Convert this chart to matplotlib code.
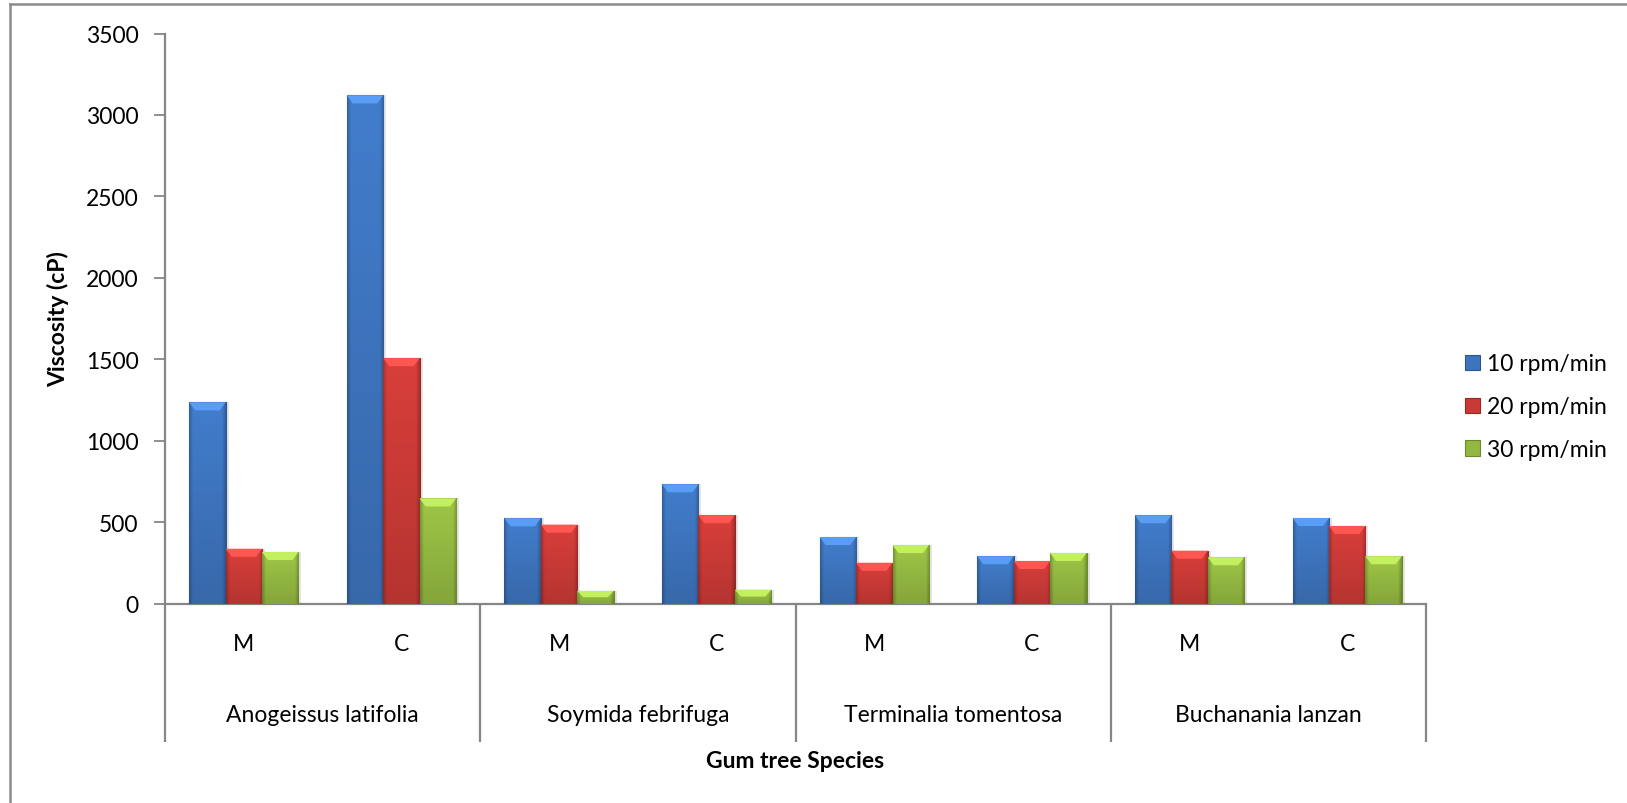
import numpy as np
import matplotlib
matplotlib.use('Agg')
import matplotlib.pyplot as plt
import matplotlib.transforms as mtransforms
from matplotlib.patches import Polygon, Patch
from matplotlib.lines import Line2D
from matplotlib.colors import to_rgb

plt.rcParams['font.family'] = ['Lato', 'DejaVu Sans']

species = ['Anogeissus latifolia', 'Soymida febrifuga', 'Terminalia tomentosa', 'Buchanania lanzan']
sources = ['M', 'C']
speeds = ['10 rpm/min', '20 rpm/min', '30 rpm/min']

# viscosity (cP): M, C for each species in order
visc_10 = [1235, 3120, 523, 732, 408, 290, 542, 525]
visc_20 = [336, 1506, 484, 542, 250, 261, 324, 476]
visc_30 = [316, 645, 77, 85, 359, 310, 284, 290]

colors = ['#3d74bd', '#c93a36', '#93b841']
edges = ['#2b5690', '#962824', '#6c8a2c']
grey = '#868686'
fs = 16.5

W, H = 1627, 804
fig = plt.figure(figsize=(W / 100, H / 100), dpi=100)
ax = fig.add_axes([165 / W, 1 - 604.5 / H, 1261 / W, 570 / H])

ymax = 3500
ncat = len(visc_10)
px_x = 1 / 157.6        # data units per pixel, x
px_y = ymax / 570       # data units per pixel, y


def shade(bar, c):
    x0, w, h = bar.get_x(), bar.get_width(), bar.get_height()
    base = np.array(to_rgb(c))
    hx = np.linspace(0, 1, 40)
    edge = np.clip(np.minimum(hx, 1 - hx) / 0.1, 0, 1)
    hprof = 0.78 + 0.22 * edge
    vprof = 0.9 + 0.18 * np.linspace(1, 0, 100)
    img = np.clip(base[None, None, :] * hprof[None, :, None] * vprof[:, None, None], 0, 1)
    im = ax.imshow(img, extent=[x0, x0 + w, 0, h], aspect='auto', origin='upper',
                   interpolation='bilinear', zorder=3)
    im.set_clip_path(bar)
    # bevelled top
    d = 6 * px_x
    dy = min(8 * px_y, h * 0.5)
    top = np.clip(base * 1.22 + 0.06, 0, 1)
    ax.add_patch(Polygon([[x0, h], [x0 + w, h], [x0 + w - d, h - dy], [x0 + d, h - dy]],
                         closed=True, facecolor=top, edgecolor='none', zorder=4))


x = np.arange(ncat)
w = 0.231
for k, vals in enumerate([visc_10, visc_20, visc_30]):
    pos = x + (k - 1) * w
    # soft shadow on the right
    ax.bar(pos + 3 * px_x, vals, w, color='#000000', alpha=0.10, zorder=2, linewidth=0)
    bars = ax.bar(pos, vals, w, color=colors[k], edgecolor=edges[k], linewidth=0.8, zorder=3)
    for b in bars:
        shade(b, colors[k])

ax.set_xlim(-0.5, ncat - 0.5)
ax.set_ylim(0, ymax)
ax.set_yticks(range(0, ymax + 1, 500))
ax.set_xticks([])
ax.tick_params(axis='y', length=8, width=1.3, color=grey, pad=11, labelsize=fs)
for s in ['top', 'right']:
    ax.spines[s].set_visible(False)
for s in ['left', 'bottom']:
    ax.spines[s].set_color(grey)
    ax.spines[s].set_linewidth(1.6)

# two-level category axis
trans = mtransforms.blended_transform_factory(ax.transData, ax.transAxes)
for i in x:
    ax.text(i, -0.071, sources[i % 2], transform=trans, ha='center', va='center', fontsize=fs)
for g, name in enumerate(species):
    ax.text(2 * g + 0.5, -0.194, name, transform=trans, ha='center', va='center', fontsize=fs)
for g in range(len(species) + 1):
    ax.plot([2 * g - 0.5] * 2, [0, -0.2425], transform=trans, color=grey, lw=1.6,
            clip_on=False, solid_capstyle='butt')

ax.text(0.5, -0.2757, 'Gum tree Species', transform=ax.transAxes, ha='center', va='center',
        fontsize=fs, fontweight='bold')
ax.text(-0.0849, 0.5, 'Viscosity (cP)', transform=ax.transAxes, ha='center', va='center',
        rotation=90, fontsize=fs, fontweight='bold')

handles = [Patch(facecolor=colors[k], edgecolor=edges[k], linewidth=0.8) for k in range(3)]
fig.legend(handles, speeds, loc='center left', bbox_to_anchor=(1465 / W, 1 - 407.7 / H),
           frameon=False, fontsize=fs, handlelength=0.65, handleheight=0.65,
           handletextpad=0.3, labelspacing=0.95, borderpad=0, borderaxespad=0)

# chart frame (left and top edges)
fig.add_artist(Line2D([10 / W, 10 / W], [0, 1 - 5 / H], transform=fig.transFigure,
                      color='#8c8c8c', lw=1.8))
fig.add_artist(Line2D([10 / W, 1], [1 - 5 / H, 1 - 5 / H], transform=fig.transFigure,
                      color='#8c8c8c', lw=1.8))

fig.savefig('out.png', dpi=100)
